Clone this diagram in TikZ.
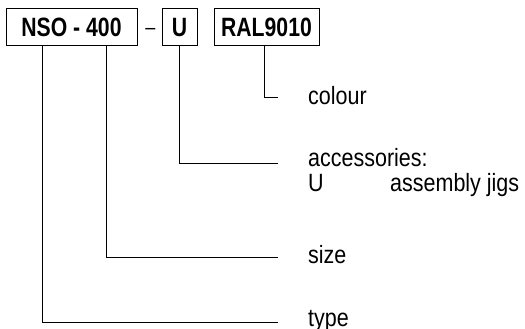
\documentclass[tikz,border=0pt]{standalone}
\usepackage{fontspec}
\setmainfont{Liberation Sans}[FakeStretch=0.86, BoldFeatures={FakeStretch=0.8}]
\usepackage{tikz}
\usetikzlibrary{positioning}

\begin{document}
\begin{tikzpicture}[
  x=1pt, y=-1pt,
  code/.style={rectangle, draw, line width=1pt, minimum height=37pt, inner sep=0pt, font=\fontsize{26.5}{30}\selectfont\bfseries},
  lbl/.style={anchor=base west, inner sep=0pt, font=\fontsize{25}{30}\selectfont},
  lead/.style={line width=0.8pt},
]
  \useasboundingbox (0,0) rectangle (525,329);

  \node[code, minimum width=131pt] (nso) at (71.5,27.5) {NSO - 400};
  \node[code, minimum width=35pt] (acc) at (179.5,27.5) {U};
  \node[code, minimum width=105pt] (ral) at (266.5,27.5) {RAL9010};
  \node[anchor=base, inner sep=0pt, font=\fontsize{21}{24}\selectfont] (dash) at (150.3,35) {–};

  \node[lbl] (colour) at (308,104) {colour};
  \node[lbl] (accessories) at (308,166) {accessories:};
  \node[lbl] (ukey) at (308,191) {U};
  \node[lbl] (jigs) at (390,191) {assembly jigs};
  \node[lbl] (size) at (308,263) {size};
  \node[lbl] (type) at (308,326.5) {type};

  \draw[lead] ([xshift=-2.5pt]ral.south) |- ([shift={(-30,-7)}]colour.base west);
  \draw[lead] ([xshift=-0.5pt]acc.south) |- ([shift={(-30,-3)}]accessories.base west);
  \draw[lead] ([xshift=34.5pt]nso.south) |- ([shift={(-30,-6)}]size.base west);
  \draw[lead] ([xshift=-29.5pt]nso.south) |- ([shift={(-30,-4.5)}]type.base west);
\end{tikzpicture}
\end{document}
